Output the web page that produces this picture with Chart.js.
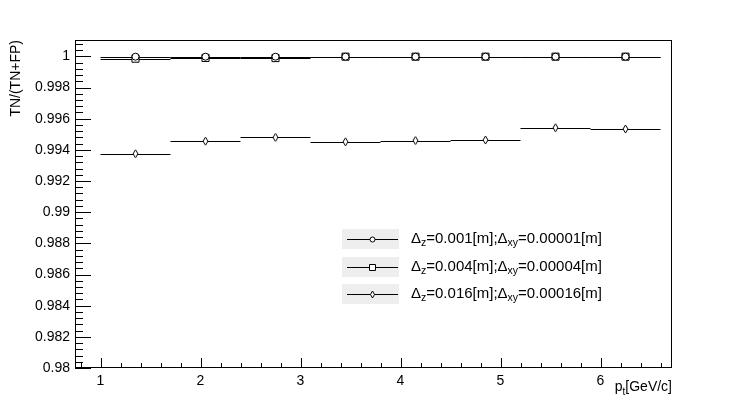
<!DOCTYPE html>
<html>
<head>
<meta charset="utf-8">
<script src="https://cdn.jsdelivr.net/npm/chart.js@4.4.1/dist/chart.umd.min.js"></script>
<style>
    html, body { margin: 0; padding: 0; background: #fff; }
</style>
</head>
<body>
<canvas id="chart" width="747" height="410"></canvas>
<script>
// p_t bins (centre, half width) and TN/(TN+FP) per bin
const binCenters = [1.35, 2.05, 2.75, 3.45, 4.15, 4.85, 5.55, 6.25];
const binHalfWidth = 0.35;
const effDz001 = [0.99998, 0.99998, 0.99998, 0.99998, 0.99998, 0.99998, 0.99998, 0.99998];
const effDz004 = [0.99985, 0.99990, 0.99989, 0.99998, 0.99998, 0.99998, 0.99998, 0.99998];
const effDz016 = [0.99375, 0.99456, 0.99480, 0.99452, 0.99460, 0.99463, 0.99542, 0.99534];
const seriesLabels = [
    'Δ_{z}=0.001[m];Δ_{xy}=0.00001[m]',
    'Δ_{z}=0.004[m];Δ_{xy}=0.00004[m]',
    'Δ_{z}=0.016[m];Δ_{xy}=0.00016[m]'
];
const xTicks = [1, 2, 3, 4, 5, 6];
const yTicks = [0.98, 0.982, 0.984, 0.986, 0.988, 0.99, 0.992, 0.994, 0.996, 0.998, 1];
const xTitle = ['p', 't', '[GeV/c]'];
const yTitle = 'TN/(TN+FP)';

const FONT = '"Liberation Sans", Arial, Helvetica, sans-serif';

function makeDiamond(w, h) {
    const c = document.createElement('canvas');
    c.width = w + 2;
    c.height = h + 2;
    const g = c.getContext('2d');
    g.translate(0.5, 0.5);
    g.beginPath();
    g.moveTo(w / 2 + 0.5, 0.5);
    g.lineTo(w + 0.5, h / 2 + 0.5);
    g.lineTo(w / 2 + 0.5, h + 0.5);
    g.lineTo(0.5, h / 2 + 0.5);
    g.closePath();
    g.fillStyle = '#fff';
    g.fill();
    g.strokeStyle = '#000';
    g.lineWidth = 1;
    g.stroke();
    return c;
}

function toPoints(values) {
    return values.map((v, i) => ({x: binCenters[i], y: v}));
}

// draws "text_{sub}text" with subscripts, returns width
function drawRich(ctx, text, x, y, size, measureOnly) {
    const parts = text.split(/_\{([^}]*)\}/);
    let cx = x;
    parts.forEach((p, i) => {
        const sub = i % 2 === 1;
        const s = sub ? size * 0.7 : size;
        ctx.font = s + 'px ' + FONT;
        if (!measureOnly) ctx.fillText(p, cx, sub ? y + size * 0.3 : y);
        cx += ctx.measureText(p).width;
    });
    return cx - x;
}

const rootStyle = {
    id: 'rootStyle',
    beforeDatasetsDraw(chart) {
        const {ctx, chartArea} = chart;
        const xs = chart.scales.x, ys = chart.scales.y;
        ctx.save();
        ctx.beginPath();
        ctx.rect(chartArea.left, chartArea.top, chartArea.right - chartArea.left, chartArea.bottom - chartArea.top);
        ctx.clip();
        ctx.strokeStyle = '#000';
        ctx.lineWidth = 1;
        chart.data.datasets.forEach(ds => {
            ds.data.forEach(p => {
                const y = Math.round(ys.getPixelForValue(p.y)) + 0.5;
                ctx.beginPath();
                ctx.moveTo(xs.getPixelForValue(p.x - binHalfWidth), y);
                ctx.lineTo(xs.getPixelForValue(p.x + binHalfWidth), y);
                ctx.stroke();
            });
        });
        ctx.restore();
    },
    afterDraw(chart) {
        const {ctx, chartArea} = chart;
        const {left, right, top, bottom} = chartArea;
        const xs = chart.scales.x, ys = chart.scales.y;
        ctx.save();
        ctx.strokeStyle = '#000';
        ctx.fillStyle = '#000';
        ctx.lineWidth = 1;

        // frame
        ctx.strokeRect(left + 0.5, top + 0.5, right - left - 1, bottom - top - 1);

        // y ticks, drawn inside the frame
        ctx.beginPath();
        for (let i = 0; ; i++) {
            const v = ys.min + i * 0.0004;
            if (v > ys.max) break;
            const py = Math.round(ys.getPixelForValue(v)) + 0.5;
            const major = i % 5 === 0;
            ctx.moveTo(left, py);
            ctx.lineTo(left + (major ? 16 : 8), py);
        }
        // x ticks
        for (let i = 0; ; i++) {
            const v = 0.8 + i * 0.2;
            if (v > 6.61) break;
            const px = Math.round(xs.getPixelForValue(v)) + 0.5;
            const major = Math.abs(v - Math.round(v)) < 1e-6;
            ctx.moveTo(px, bottom);
            ctx.lineTo(px, bottom - (major ? 10 : 5));
        }
        ctx.stroke();

        // axis titles
        ctx.textBaseline = 'alphabetic';
        ctx.font = '14px ' + FONT;
        const w0 = ctx.measureText(xTitle[0]).width;
        ctx.font = '10px ' + FONT;
        const w1 = ctx.measureText(xTitle[1]).width;
        ctx.font = '14px ' + FONT;
        const w2 = ctx.measureText(xTitle[2]).width;
        let tx = right - (w0 + w1 + w2);
        const ty = 391;
        ctx.fillText(xTitle[0], tx, ty);
        ctx.font = '10px ' + FONT;
        ctx.fillText(xTitle[1], tx + w0, ty + 4);
        ctx.font = '14px ' + FONT;
        ctx.fillText(xTitle[2], tx + w0 + w1, ty);

        ctx.save();
        ctx.translate(16, top);
        ctx.rotate(-Math.PI / 2);
        ctx.textAlign = 'right';
        ctx.textBaseline = 'middle';
        ctx.font = '14px ' + FONT;
        ctx.fillText(yTitle, 0, 0);
        ctx.restore();

        // legend
        const rowY = [239, 267, 294];
        const markers = ['circle', 'square', 'diamond'];
        rowY.forEach((cy, i) => {
            ctx.fillStyle = '#eeeeee';
            ctx.fillRect(342, cy - 10, 57, 20);
            ctx.strokeStyle = '#000';
            ctx.beginPath();
            ctx.moveTo(347, cy + 0.5);
            ctx.lineTo(398, cy + 0.5);
            ctx.stroke();
            ctx.fillStyle = '#fff';
            ctx.beginPath();
            const mx = 372.5, my = cy + 0.5;
            if (markers[i] === 'circle') {
                ctx.arc(mx, my, 2.5, 0, Math.PI * 2);
            } else if (markers[i] === 'square') {
                ctx.rect(mx - 3, my - 3, 6, 6);
            } else {
                ctx.moveTo(mx, my - 3.5);
                ctx.lineTo(mx + 2, my);
                ctx.lineTo(mx, my + 3.5);
                ctx.lineTo(mx - 2, my);
                ctx.closePath();
            }
            ctx.fill();
            ctx.stroke();
            ctx.fillStyle = '#000';
            ctx.textBaseline = 'middle';
            drawRich(ctx, seriesLabels[i], 411, cy, 15);
        });
        ctx.restore();
    }
};

const ctx = document.getElementById('chart').getContext('2d');
window.effChart = new Chart(ctx, {
    type: 'scatter',
    data: {
        datasets: [{
            label: seriesLabels[0],
            data: toPoints(effDz001),
            pointStyle: 'circle',
            pointRadius: 3.5
        }, {
            label: seriesLabels[1],
            data: toPoints(effDz004),
            pointStyle: 'rect',
            pointRadius: 5
        }, {
            label: seriesLabels[2],
            data: toPoints(effDz016),
            pointStyle: makeDiamond(5, 8),
            pointRadius: 4
        }].map(ds => Object.assign(ds, {
            showLine: false,
            borderColor: '#000',
            backgroundColor: '#fff',
            pointBorderColor: '#000',
            pointBackgroundColor: '#fff',
            pointBorderWidth: 1
        }))
    },
    options: {
        responsive: false,
        animation: false,
        devicePixelRatio: 1,
        layout: {
            padding: {left: 0, right: 75, top: 40, bottom: 0}
        },
        plugins: {
            legend: {display: false},
            tooltip: {enabled: false}
        },
        scales: {
            x: {
                type: 'linear',
                min: 0.745,
                max: 6.715,
                afterBuildTicks: scale => { scale.ticks = xTicks.map(v => ({value: v})); },
                afterFit: scale => { scale.height = 42; },
                grid: {display: false, drawTicks: false},
                border: {display: false},
                ticks: {
                    color: '#000',
                    padding: 5,
                    maxRotation: 0,
                    autoSkip: false,
                    font: {family: FONT, size: 14},
                    callback: v => String(v)
                }
            },
            y: {
                type: 'linear',
                min: 0.98,
                max: 1.00105,
                afterBuildTicks: scale => { scale.ticks = yTicks.map(v => ({value: v})); },
                afterFit: scale => { scale.width = 75; },
                grid: {display: false, drawTicks: false},
                border: {display: false},
                ticks: {
                    color: '#000',
                    padding: 5,
                    autoSkip: false,
                    font: {family: FONT, size: 14},
                    callback: v => String(+v.toFixed(3))
                }
            }
        }
    },
    plugins: [rootStyle]
});
</script>
</body>
</html>
